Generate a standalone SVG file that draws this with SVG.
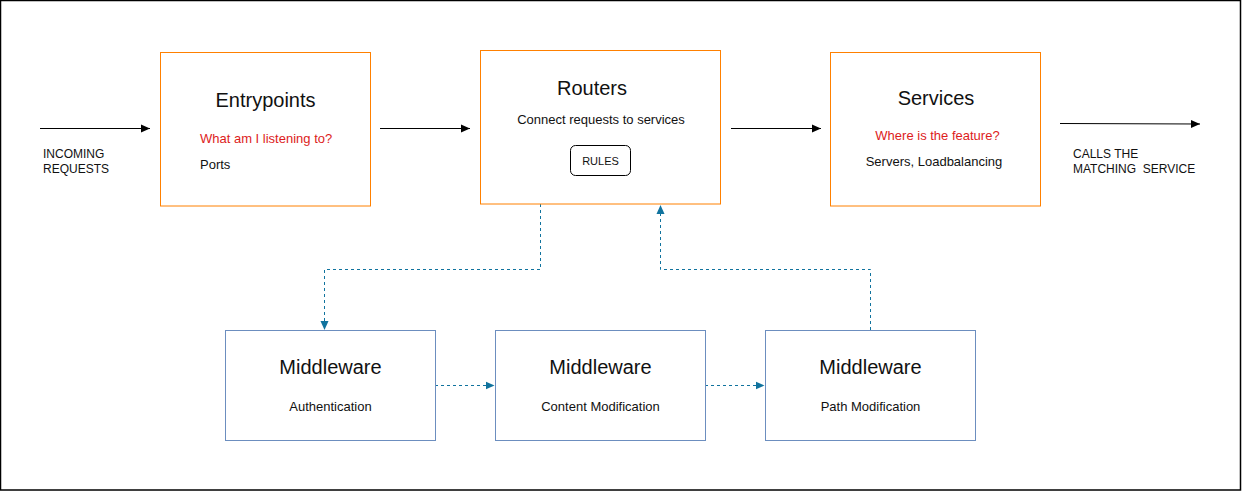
<svg xmlns="http://www.w3.org/2000/svg" width="1242" height="491" viewBox="0 0 1242 491">
<style>
text{font-family:"Liberation Sans",Arial,sans-serif;fill:#111}
.title{font-size:20px;text-anchor:middle}
.sub{font-size:13px}
.mid{text-anchor:middle}
.red{fill:#DD1C1C}
.lbl{font-size:12px;white-space:pre}
.orange{fill:#fff;stroke:#FF8000;stroke-width:1}
.blue{fill:#fff;stroke:#6C8EBF;stroke-width:1}
.solid{fill:none;stroke:#000;stroke-width:1}
.dash{fill:none;stroke:#10739E;stroke-width:1;stroke-dasharray:3 3}
</style>
<defs>
<marker id="blk" markerUnits="userSpaceOnUse" markerWidth="10" markerHeight="10" refX="9" refY="5" orient="auto">
<path d="M0,1 L9,5 L0,9 Z" fill="#000"/>
</marker>
<marker id="teal" markerUnits="userSpaceOnUse" markerWidth="10" markerHeight="10" refX="9" refY="5" orient="auto">
<path d="M0,1 L9,5 L0,9 Z" fill="#10739E"/>
</marker>
</defs>
<rect x="0.5" y="0.5" width="1240" height="489.5" fill="#fff" stroke="#000" stroke-width="1.5"/>

<g id="connectors">
<path class="solid" d="M40,128.5 H150" marker-end="url(#blk)"/>
<path class="solid" d="M380,128.5 H470" marker-end="url(#blk)"/>
<path class="solid" d="M731,128.5 H821" marker-end="url(#blk)"/>
<path class="solid" d="M1060,123.5 L1200,124" marker-end="url(#blk)"/>
<path class="dash" d="M540.5,204 V269.5 H324.5 V330" marker-end="url(#teal)"/>
<path class="dash" d="M870.5,330 V269.5 H660.5 V205" marker-end="url(#teal)"/>
<path class="dash" d="M435,385.5 H494.5" marker-end="url(#teal)"/>
<path class="dash" d="M705,385.5 H764.5" marker-end="url(#teal)"/>
</g>

<g id="label-incoming">
<text class="lbl" x="43" y="158">INCOMING</text>
<text class="lbl" x="43" y="172.5">REQUESTS</text>
</g>
<g id="label-calls">
<text class="lbl" x="1073" y="158">CALLS THE</text>
<text class="lbl" x="1073" y="172.5">MATCHING  SERVICE</text>
</g>

<g id="entrypoints">
<rect class="orange" x="160.5" y="52.5" width="210" height="153.5"/>
<text class="title" x="265.5" y="107">Entrypoints</text>
<text class="sub red" x="200" y="143">What am I listening to?</text>
<text class="sub" x="200" y="169">Ports</text>
</g>

<g id="routers">
<rect class="orange" x="480.5" y="50.5" width="240" height="153.5"/>
<text class="title" x="592" y="95">Routers</text>
<text class="sub mid" x="601" y="123.5">Connect requests to services</text>
<g id="rules">
<rect x="570.5" y="145.5" width="60" height="30" rx="5" fill="#fff" stroke="#000" stroke-width="1"/>
<text class="mid" style="font-size:11px" x="600.5" y="164.5">RULES</text>
</g>
</g>

<g id="services">
<rect class="orange" x="830.5" y="52.5" width="210" height="153.5"/>
<text class="title" x="936" y="104.5">Services</text>
<text class="sub mid red" x="937.5" y="140">Where is the feature?</text>
<text class="sub mid" x="934" y="166">Servers, Loadbalancing</text>
</g>

<g id="mw-auth">
<rect class="blue" x="225.5" y="330.5" width="210" height="110"/>
<text class="title" x="330.5" y="374">Middleware</text>
<text class="sub mid" x="330.5" y="411">Authentication</text>
</g>

<g id="mw-content">
<rect class="blue" x="495.5" y="330.5" width="210" height="110"/>
<text class="title" x="600.5" y="374">Middleware</text>
<text class="sub mid" x="600.5" y="411">Content Modification</text>
</g>

<g id="mw-path">
<rect class="blue" x="765.5" y="330.5" width="210" height="110"/>
<text class="title" x="870.5" y="374">Middleware</text>
<text class="sub mid" x="870.5" y="411">Path Modification</text>
</g>
</svg>
